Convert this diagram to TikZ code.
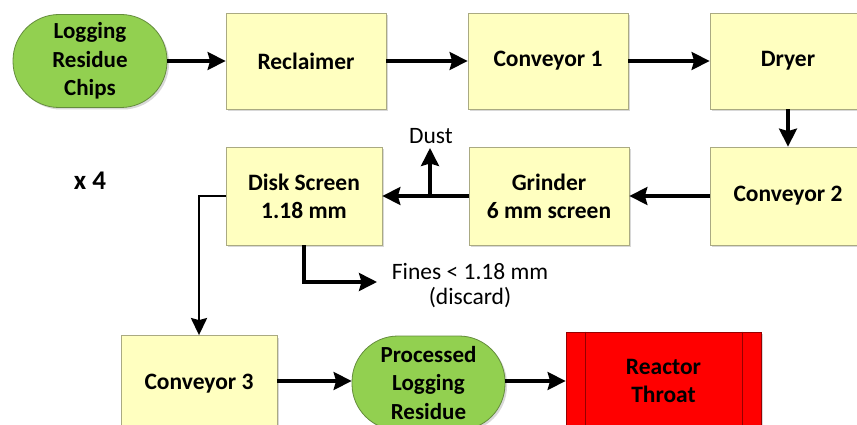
\documentclass[tikz,border=0pt]{standalone}
\usepackage{fontspec}
\setmainfont{Carlito}
\usetikzlibrary{arrows.meta,shadows}
\definecolor{boxyellow}{RGB}{255,255,192}
\definecolor{boxborder}{RGB}{170,170,130}
\definecolor{boxgreen}{RGB}{146,208,80}
\definecolor{greenborder}{RGB}{100,140,60}
\definecolor{boxred}{RGB}{255,0,0}
\definecolor{redborder}{RGB}{150,0,0}
\tikzset{
  procbox/.style={draw=boxborder, fill=boxyellow, line width=0.8pt, align=center,
    font=\fontsize{23.5}{28}\selectfont\bfseries,
    drop shadow={shadow xshift=2pt, shadow yshift=-2pt, fill=black!25, opacity=0.6}},
  termbox/.style={draw=greenborder, fill=boxgreen, line width=0.8pt, align=center,
    rounded corners=46pt, font=\fontsize{23}{28.5}\selectfont\bfseries,
    drop shadow={shadow xshift=2pt, shadow yshift=-2pt, fill=black!25, opacity=0.6}},
  flow/.style={line width=3.2pt, -{Stealth[length=18pt,width=18pt,inset=2.5pt]}},
  thinflow/.style={line width=2.7pt, -{Stealth[length=17pt,width=16pt,inset=2pt]}},
  lbl/.style={font=\fontsize{23.5}{28}\selectfont, align=center, inner sep=0pt}
}
\begin{document}
\begin{tikzpicture}[x=1pt,y=-1pt]
\useasboundingbox (0,0) rectangle (857,425);
\fill[white] (0,0) rectangle (857,425);
% top row
\node[termbox, minimum width=154pt, minimum height=93pt] (chips) at (90,61) {Logging\\Residue\\Chips};
\node[procbox, minimum width=160pt, minimum height=96pt] (recl) at (306,61) {Reclaimer};
\node[procbox, minimum width=160pt, minimum height=96pt] (conv1) at (548,61) {Conveyor 1};
\node[procbox, minimum width=156pt, minimum height=96pt] (dryer) at (788,61) {Dryer};
% middle row
\node[procbox, minimum width=156pt, minimum height=98pt] (conv2) at (788,196) {Conveyor 2};
\node[procbox, minimum width=160pt, minimum height=98pt] (grind) at (549,196) {Grinder\\6 mm screen};
\node[procbox, minimum width=156pt, minimum height=98pt] (disk) at (304,196) {Disk Screen\\1.18 mm};
\node[font=\fontsize{27}{30}\selectfont\bfseries, inner sep=0pt] (x4) at (90,181) {x 4};
% bottom row
\node[procbox, minimum width=156pt, minimum height=97pt] (conv3) at (199,384) {Conveyor 3};
\node[termbox, minimum width=153pt, minimum height=94pt] (proc) at (428.5,383) {Processed\\Logging\\Residue};
\node[draw=redborder, fill=boxred, line width=0.8pt, minimum width=195pt, minimum height=97pt,
  align=center, font=\fontsize{23.5}{28}\selectfont\bfseries,
  drop shadow={shadow xshift=2pt, shadow yshift=-2pt, fill=black!25, opacity=0.6}] (reac) at (663.5,380.5) {Reactor\\Throat};
\draw[redborder, line width=0.8pt] ([xshift=20pt]reac.north west) -- ([xshift=20pt]reac.south west);
\draw[redborder, line width=0.8pt] ([xshift=-19pt]reac.north east) -- ([xshift=-19pt]reac.south east);
% labels
\node[lbl] (dust) at (431,136) {Dust};
\node[lbl] (fines) at (470,272) {Fines < 1.18 mm};
\node[lbl] (disc) at (470,298) {(discard)};
\coordinate (dustj) at (430,196);
\coordinate (dustend) at (430,148);
\coordinate (finesc) at (304,282);
\coordinate (finesend) at (377,282);
\coordinate (leftc) at (199,196);
% connectors
\draw[flow] (chips.east) -- (recl.west);
\draw[flow] (recl.east) -- (conv1.west);
\draw[flow] (conv1.east) -- (dryer.west);
\draw[flow] (dryer.south) -- (conv2.north);
\draw[flow] (conv2.west) -- (grind.east);
\draw[flow] (grind.west) -- (disk.east);
\draw[flow] (dustj) -- (dustend);
\draw[flow] (disk.south) -- (finesc) -- (finesend);
\draw[thinflow] (disk.west) -- (leftc) -- (leftc |- conv3.north);
\draw[flow] (conv3.east |- 0,381) -- (proc.west |- 0,381);
\draw[flow] (proc.east |- 0,381) -- (reac.west |- 0,381);
\end{tikzpicture}
\end{document}
